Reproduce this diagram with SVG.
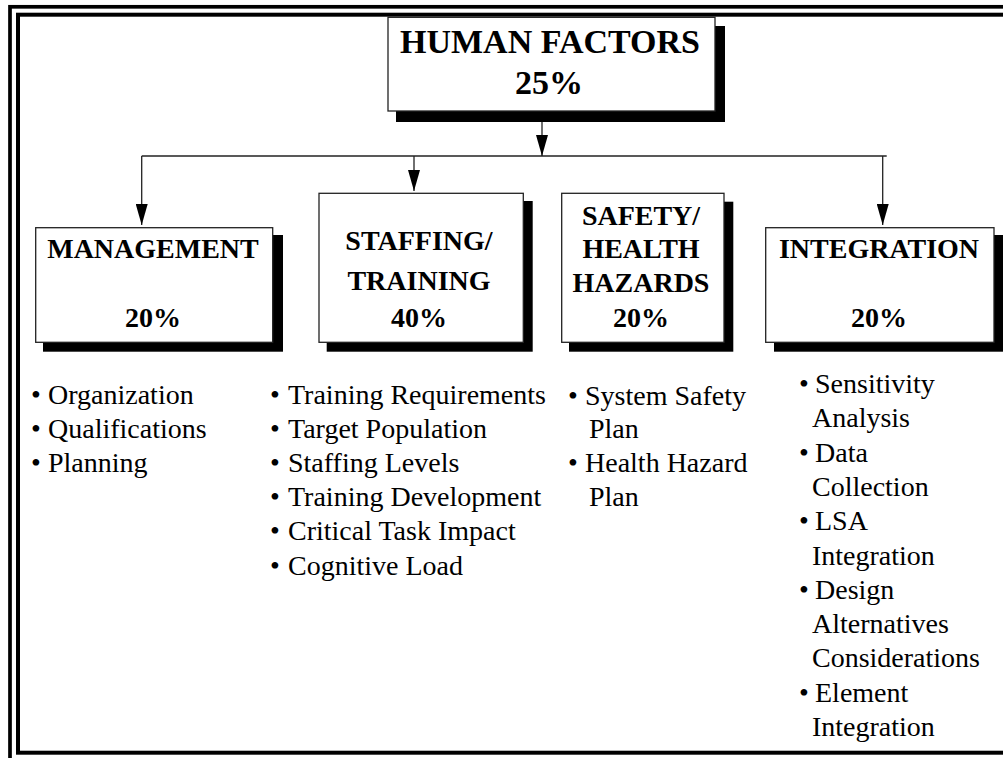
<svg xmlns="http://www.w3.org/2000/svg" width="1003" height="758" viewBox="0 0 1003 758">
<style>
.box{fill:#fff;stroke:#222;stroke-width:1.3}
.sh{fill:#000}
.h{font-family:"Liberation Serif","Times New Roman",serif;font-weight:bold;font-size:28px;text-anchor:middle;fill:#000}
.t{font-family:"Liberation Serif","Times New Roman",serif;font-size:28px;fill:#000}
.ln{stroke:#222;stroke-width:1.3;fill:none}
</style>
<defs>
<marker id="ah" markerUnits="userSpaceOnUse" markerWidth="21" markerHeight="12" refX="21" refY="6" orient="auto">
<path d="M0,0 L21,6 L0,12 z" fill="#000"/>
</marker>
</defs>
<rect width="1003" height="758" fill="#fff"/>
<g id="frame" fill="none" stroke="#000">
<rect x="10" y="6.8" width="1030" height="800" stroke-width="3.7"/>
<rect x="18" y="14.7" width="1020" height="738" stroke-width="4"/>
</g>
<g id="connectors">
<line class="ln" x1="141.7" y1="156" x2="886.7" y2="156"/>
<line class="ln" x1="542" y1="122" x2="542" y2="156" marker-end="url(#ah)"/>
<line class="ln" x1="141.7" y1="156" x2="141.7" y2="225" marker-end="url(#ah)"/>
<line class="ln" x1="414" y1="156" x2="414" y2="191" marker-end="url(#ah)"/>
<line class="ln" x1="882.7" y1="156" x2="882.7" y2="225" marker-end="url(#ah)"/>
</g>
<g id="human-factors">
<rect class="sh" x="396" y="26" width="329" height="96"/>
<rect class="box" x="388" y="17.3" width="327" height="93.7"/>
<text class="h" x="550" y="53" style="font-size:34px">HUMAN FACTORS</text>
<text class="h" x="549" y="94" style="font-size:34px">25%</text>
</g>
<g id="management">
<rect class="sh" x="43" y="235" width="240" height="116.7"/>
<rect class="box" x="35.7" y="227.7" width="237" height="114.6"/>
<text class="h" x="153" y="258">MANAGEMENT</text>
<text class="h" x="153" y="326.7">20%</text>
</g>
<g id="staffing-training">
<rect class="sh" x="326.7" y="201" width="206" height="150.7"/>
<rect class="box" x="319" y="193.3" width="204.3" height="149"/>
<text class="h" x="419" y="250">STAFFING/</text>
<text class="h" x="419" y="290">TRAINING</text>
<text class="h" x="419" y="326.7">40%</text>
</g>
<g id="safety-health">
<rect class="sh" x="569" y="201.7" width="164.3" height="150"/>
<rect class="box" x="561.7" y="193.3" width="162.3" height="149"/>
<text class="h" x="641" y="225">SAFETY/</text>
<text class="h" x="641" y="258.3">HEALTH</text>
<text class="h" x="641" y="291.7">HAZARDS</text>
<text class="h" x="641" y="326.7">20%</text>
</g>
<g id="integration">
<rect class="sh" x="774" y="235" width="235" height="116.7"/>
<rect class="box" x="765.7" y="227.7" width="228.3" height="114.6"/>
<text class="h" x="879" y="258">INTEGRATION</text>
<text class="h" x="879" y="326.7">20%</text>
</g>
<g id="management-list" class="t">
<text class="t" y="403.5"><tspan x="31">•</tspan><tspan x="48">Organization</tspan></text>
<text class="t" y="437.7"><tspan x="31">•</tspan><tspan x="48">Qualifications</tspan></text>
<text class="t" y="471.9"><tspan x="31">•</tspan><tspan x="48">Planning</tspan></text>
</g>
<g id="staffing-list">
<text class="t" y="403.5"><tspan x="270">•</tspan><tspan x="288">Training Requirements</tspan></text>
<text class="t" y="437.7"><tspan x="270">•</tspan><tspan x="288">Target Population</tspan></text>
<text class="t" y="471.9"><tspan x="270">•</tspan><tspan x="288">Staffing Levels</tspan></text>
<text class="t" y="506.1"><tspan x="270">•</tspan><tspan x="288">Training Development</tspan></text>
<text class="t" y="540.3"><tspan x="270">•</tspan><tspan x="288">Critical Task Impact</tspan></text>
<text class="t" y="574.5"><tspan x="270">•</tspan><tspan x="288">Cognitive Load</tspan></text>
</g>
<g id="safety-list">
<text class="t" y="404.5"><tspan x="568">•</tspan><tspan x="585">System Safety</tspan></text>
<text class="t" x="589" y="437.7">Plan</text>
<text class="t" y="471.9"><tspan x="568">•</tspan><tspan x="585">Health Hazard</tspan></text>
<text class="t" x="589" y="506.1">Plan</text>
</g>
<g id="integration-list">
<text class="t" y="393"><tspan x="799">•</tspan><tspan x="815">Sensitivity</tspan></text>
<text class="t" x="812" y="427.3">Analysis</text>
<text class="t" y="461.6"><tspan x="799">•</tspan><tspan x="815">Data</tspan></text>
<text class="t" x="812" y="495.9">Collection</text>
<text class="t" y="530.2"><tspan x="799">•</tspan><tspan x="815">LSA</tspan></text>
<text class="t" x="812" y="564.5">Integration</text>
<text class="t" y="598.8"><tspan x="799">•</tspan><tspan x="815">Design</tspan></text>
<text class="t" x="812" y="633.1">Alternatives</text>
<text class="t" x="812" y="667.4">Considerations</text>
<text class="t" y="701.7"><tspan x="799">•</tspan><tspan x="815">Element</tspan></text>
<text class="t" x="812" y="736">Integration</text>
</g>
</svg>
